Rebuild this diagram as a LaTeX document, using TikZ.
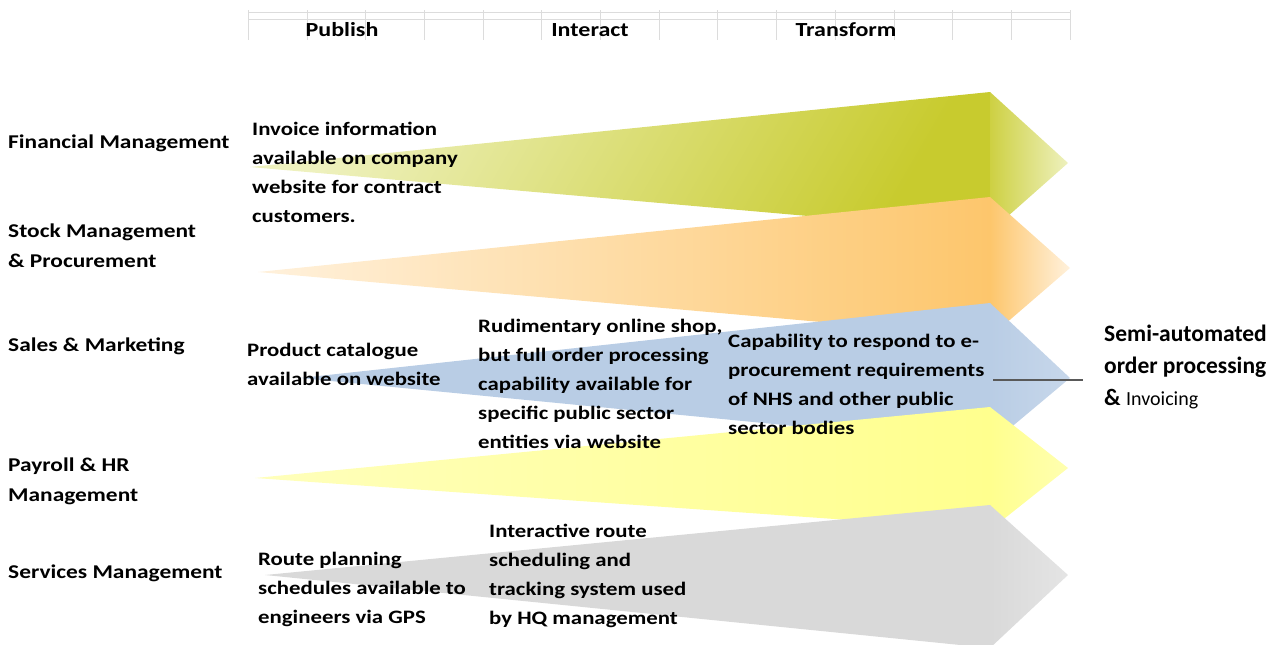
\documentclass[tikz,border=0pt]{standalone}
\usepackage{fontspec}
\setmainfont{Carlito}[FakeStretch=1.2]
\newfontfamily\sidefont{Carlito}
\usetikzlibrary{positioning}

\definecolor{greenL}{HTML}{EEF1BE}
\definecolor{greenD}{HTML}{C8CB2E}
\definecolor{orangeL}{HTML}{FFF1DC}
\definecolor{orangeD}{HTML}{FDC66C}
\definecolor{blueA}{HTML}{B9CDE5}
\definecolor{yellowA}{HTML}{FFFF8E}
\definecolor{greyA}{HTML}{D9D9D9}
\definecolor{gridC}{HTML}{DCDCDC}

\begin{document}
\begin{tikzpicture}[x=1pt, y=-1pt,
  every node/.style={font=\fontsize{19}{29}\selectfont\bfseries, inner sep=0pt},
  rowlabel/.style={anchor=west, align=left, font=\fontsize{19.5}{30}\selectfont\bfseries},
  celltext/.style={anchor=north west, align=left}]
  \useasboundingbox (0,0) rectangle (1282,645);

  % tabulka nahoře
  \draw[gridC] (248,12) -- (1070,12);
  \draw[gridC] (248,19) -- (1070,19);
  \foreach \i in {0,...,14}
    \draw[gridC] ({248+58.71*\i},10) -- ({248+58.71*\i},40);
  \node[font=\fontsize{20}{24}\selectfont\bfseries] (publish) at (342,30) {Publish};
  \node[font=\fontsize{20}{24}\selectfont\bfseries] (interact) at (590,30) {Interact};
  \node[font=\fontsize{20}{24}\selectfont\bfseries] (transform) at (846,30) {Transform};

  % šipky (tělo + hrot)
  \shade[left color=greenL, right color=greenD, shading angle=60]
    (250,167) -- (990,92) -- (990,232) -- cycle;
  \shade[left color=greenD!90, right color=greenL]
    (990,92) -- (1068,163) -- (990,232) -- cycle;

  \shade[left color=orangeL, right color=orangeD]
    (258,272) -- (990,197) -- (990,337) -- cycle;
  \shade[left color=orangeD, right color=orangeL]
    (990,197) -- (1070,268) -- (990,337) -- cycle;

  \fill[blueA] (300,378) -- (990,303) -- (990,445) -- cycle;
  \shade[left color=blueA, right color=blueA!80]
    (990,303) -- (1070,378) -- (990,445) -- cycle;

  \shade[left color=yellowA!60, right color=yellowA]
    (255,478) -- (990,407) -- (990,530) -- cycle;
  \shade[left color=yellowA, right color=yellowA!70]
    (990,407) -- (1068,468) -- (990,530) -- cycle;

  \fill[greyA] (265,575) -- (990,505) -- (990,648) -- cycle;
  \shade[left color=greyA, right color=greyA!70]
    (990,505) -- (1068,575) -- (990,648) -- cycle;

  % řádky vlevo
  \node[rowlabel] (fin) at (8,143) {Financial Management};
  \node[rowlabel] (stock) at (8,246) {Stock Management\\\& Procurement};
  \node[rowlabel] (sales) at (8,346) {Sales \& Marketing};
  \node[rowlabel] (payroll) at (8,481) {Payroll \& HR\\Management};
  \node[rowlabel] (serv) at (8,573) {Services Management};

  % texty v buňkách
  \node[celltext] (invoice) at (252,122) {Invoice information\\available on company\\website for contract\\customers.};
  \node[celltext] (catalogue) at (247,343) {Product catalogue\\available on website};
  \node[celltext] (shop) at (478,319) {Rudimentary online shop,\\but full order processing\\capability available for\\specific public sector\\entities via website};
  \node[celltext] (eproc) at (728,334) {Capability to respond to e-\\procurement requirements\\of NHS and other public\\sector bodies};
  \node[celltext] (route) at (258,552) {Route planning\\schedules available to\\engineers via GPS};
  \node[celltext] (track) at (489,524) {Interactive route\\scheduling and\\tracking system used\\by HQ management};

  % popisek vpravo
  \node[anchor=west, align=left, font=\sidefont\fontsize{23.5}{32}\selectfont\bfseries] (semi) at (1104,367)
    {Semi-automated\\order processing\\\& {\mdseries\fontsize{20}{32}\selectfont Invoicing}};
  \coordinate (lineL) at (993,380);
  \draw[line width=1.5pt, black!65] (lineL) -- ([xshift=-21pt]semi.west |- lineL);
\end{tikzpicture}
\end{document}
